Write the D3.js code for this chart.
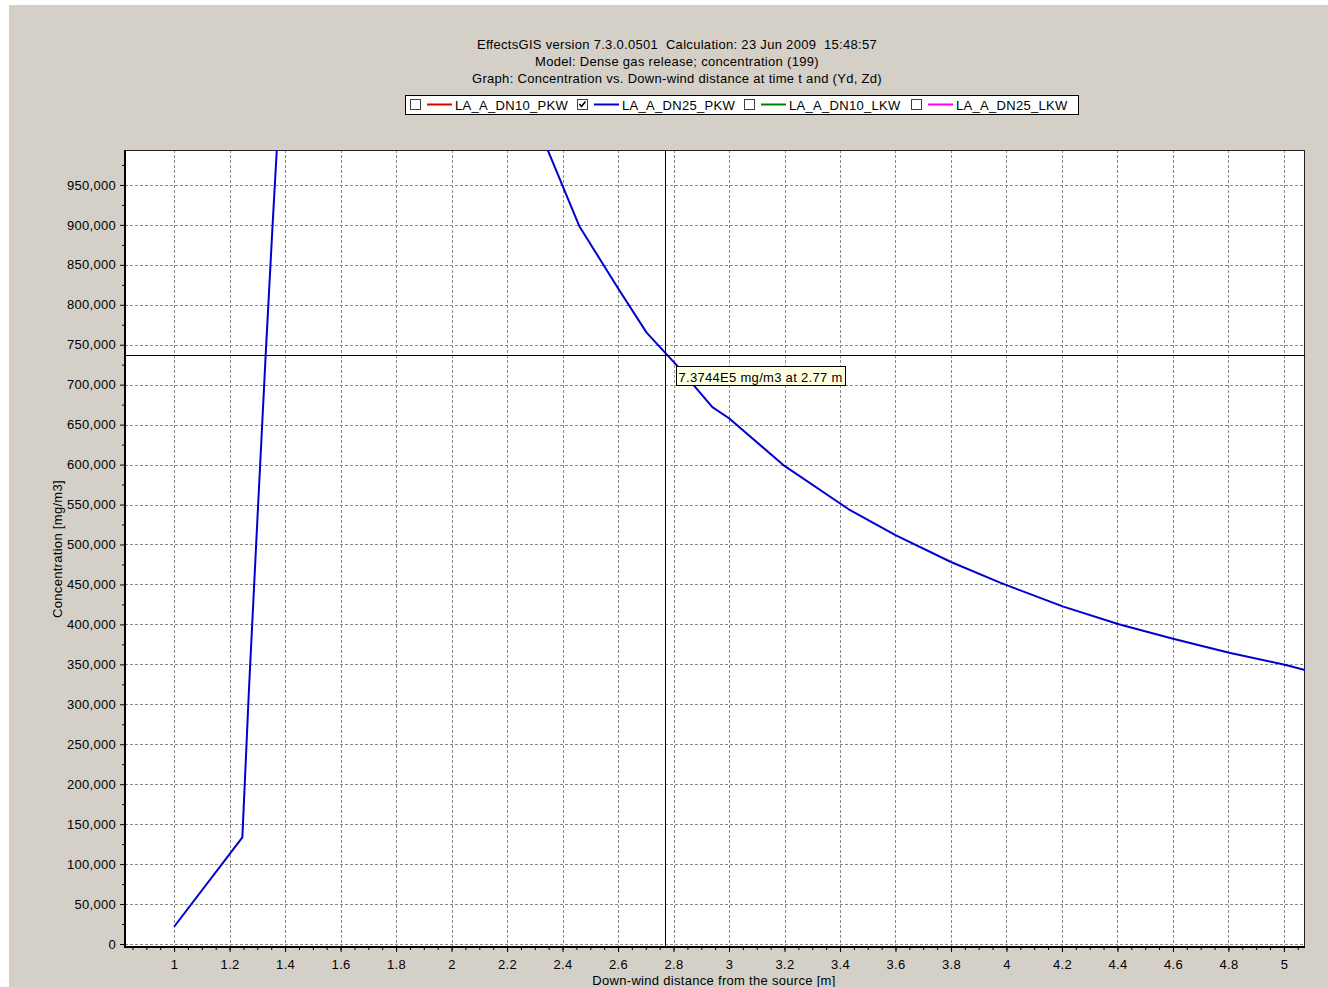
<!DOCTYPE html>
<html>
<head>
<meta charset="utf-8">
<script src="https://cdn.jsdelivr.net/npm/d3@7"></script>
<style>
  html, body { margin: 0; padding: 0; background: #ffffff; }
  svg { display: block; }
  text { font-family: "Liberation Sans", Arial, sans-serif; fill: #000; letter-spacing: 0.3px; white-space: pre; }
</style>
</head>
<body>
<svg id="chart" width="1328" height="987"></svg>
<script>
// ---- data ----
const titleLines = [
  "EffectsGIS version 7.3.0.0501  Calculation: 23 Jun 2009  15:48:57",
  "Model: Dense gas release; concentration (199)",
  "Graph: Concentration vs. Down-wind distance at time t and (Yd, Zd)"
];
const seriesNames = ["LA_A_DN10_PKW", "LA_A_DN25_PKW", "LA_A_DN10_LKW", "LA_A_DN25_LKW"];
const seriesColors = ["#e00000", "#0000d0", "#008000", "#ff00ff"];
const seriesChecked = [false, true, false, false];

// down-wind distance [m] of the visible series (LA_A_DN25_PKW)
const distance = [1.0, 1.246, 1.27, 1.30, 1.33, 1.355, 1.37, 1.38,
                  2.30, 2.349, 2.46, 2.60, 2.703, 2.807, 2.94, 3.0, 3.2, 3.43, 3.6, 3.8, 3.977,
                  4.205, 4.405, 4.604, 4.803, 5.007, 5.076, 5.10];
// concentration [mg/m3]
const concentration = [21600, 133500, 320000, 530000, 737000, 900000, 993000, 1060000,
                       1033000, 991600, 898600, 820700, 765100, 726000, 672000, 658000, 598300, 544400, 511700, 478100, 452200,
                       422200, 400100, 381700, 364600, 349200, 342900, 340500];
// the series has two branches; the second one starts at this index
const branchBreak = 8;

const xTicks = [1, 1.2, 1.4, 1.6, 1.8, 2, 2.2, 2.4, 2.6, 2.8, 3, 3.2, 3.4, 3.6, 3.8, 4, 4.2, 4.4, 4.6, 4.8, 5];
const yTicks = [0, 50000, 100000, 150000, 200000, 250000, 300000, 350000, 400000, 450000,
                500000, 550000, 600000, 650000, 700000, 750000, 800000, 850000, 900000, 950000];
const xDomain = [0.823, 5.076];
const yDomain = [-3750, 993700];

const cursorX = 2.77;
const cursorY = 737440;

const xTitle = "Down-wind distance from the source [m]";
const yTitle = "Concentration [mg/m3]";

// ---- layout ----
const svg = d3.select("#chart");
const plot = { left: 125, right: 1305, top: 150, bottom: 947 };
const FS = 13;

svg.append("rect").attr("x", 9).attr("y", 5).attr("width", 1319).attr("height", 982).attr("fill", "#d4d0c8");

const x = d3.scaleLinear().domain(xDomain).range([plot.left, plot.right]);
const y = d3.scaleLinear().domain(yDomain).range([plot.bottom, plot.top]);

// titles
svg.selectAll("text.title").data(titleLines).join("text")
  .attr("class", "title")
  .attr("x", 677).attr("y", (d, i) => 49 + i * 17)
  .attr("text-anchor", "middle").attr("font-size", FS)
  .text(d => d);

// legend
const legend = svg.append("g");
legend.append("rect").attr("x", 405.5).attr("y", 95.5).attr("width", 673).attr("height", 19)
  .attr("fill", "#fff").attr("stroke", "#000");
const legendX = [410, 577, 744, 911];
seriesNames.forEach((name, i) => {
  const g = legend.append("g").attr("transform", `translate(${legendX[i]},0)`);
  g.append("rect").attr("x", 0.5).attr("y", 99.5).attr("width", 10).attr("height", 10)
    .attr("fill", "#fff").attr("stroke", "#404040");
  if (seriesChecked[i]) {
    g.append("path").attr("d", "M2.5,104 L4.5,106.5 L8.5,101.5").attr("fill", "none")
      .attr("stroke", "#000").attr("stroke-width", 1.6);
  }
  g.append("line").attr("x1", 17).attr("x2", 42).attr("y1", 104.5).attr("y2", 104.5)
    .attr("stroke", seriesColors[i]).attr("stroke-width", 2);
  g.append("text").attr("x", 45).attr("y", 110).attr("font-size", FS).text(name);
});

// plot background
svg.append("rect").attr("x", plot.left).attr("y", plot.top)
  .attr("width", plot.right - plot.left).attr("height", plot.bottom - plot.top).attr("fill", "#fff");

// grid
const grid = svg.append("g").attr("stroke", "#8a8a8a").attr("stroke-dasharray", "3,2").attr("stroke-width", 1);
grid.selectAll("line.gx").data(xTicks).join("line")
  .attr("x1", d => Math.round(x(d)) + 0.5).attr("x2", d => Math.round(x(d)) + 0.5)
  .attr("y1", plot.top).attr("y2", plot.bottom);
grid.selectAll("line.gy").data(yTicks).join("line")
  .attr("y1", d => Math.round(y(d)) + 0.5).attr("y2", d => Math.round(y(d)) + 0.5)
  .attr("x1", plot.left).attr("x2", plot.right);

// axes
const xAxis = d3.axisBottom(x).tickValues(xTicks).tickSize(5).tickPadding(8)
  .tickFormat(d3.format("~g"));
const gx = svg.append("g").attr("transform", `translate(0,${plot.bottom})`).call(xAxis);
gx.select(".domain").remove();
gx.selectAll("text").attr("font-size", FS).attr("font-family", "Liberation Sans, Arial, sans-serif");

const xMinor = d3.range(0.85, 5.07, 0.05);
const gxm = svg.append("g").attr("transform", `translate(0,${plot.bottom})`)
  .call(d3.axisBottom(x).tickValues(xMinor).tickSize(3).tickFormat(""));
gxm.select(".domain").remove();

const yAxis = d3.axisLeft(y).tickValues(yTicks).tickSize(5).tickPadding(4)
  .tickFormat(d3.format(","));
const gy = svg.append("g").attr("transform", `translate(${plot.left},0)`).call(yAxis);
gy.select(".domain").remove();
gy.selectAll("text").attr("font-size", FS).attr("font-family", "Liberation Sans, Arial, sans-serif");

const yMinor = d3.range(25000, 990000, 50000);
const gym = svg.append("g").attr("transform", `translate(${plot.left},0)`)
  .call(d3.axisLeft(y).tickValues(yMinor).tickSize(3).tickFormat(""));
gym.select(".domain").remove();

// frame
svg.append("rect").attr("x", plot.left + 0.5).attr("y", plot.top + 0.5)
  .attr("width", plot.right - plot.left - 1).attr("height", plot.bottom - plot.top - 1)
  .attr("fill", "none").attr("stroke", "#202020").attr("stroke-width", 1);
svg.append("line").attr("x1", plot.left).attr("x2", plot.left).attr("y1", plot.top).attr("y2", plot.bottom + 1)
  .attr("stroke", "#000").attr("stroke-width", 2);
svg.append("line").attr("x1", plot.left).attr("x2", plot.right).attr("y1", plot.bottom).attr("y2", plot.bottom)
  .attr("stroke", "#000").attr("stroke-width", 2);

// axis titles
svg.append("text").attr("x", 714).attr("y", 985).attr("text-anchor", "middle").attr("font-size", FS).text(xTitle);
svg.append("text").attr("transform", "translate(62,549) rotate(-90)").attr("text-anchor", "middle")
  .attr("font-size", FS).text(yTitle);

// series line
svg.append("clipPath").attr("id", "plotClip").append("rect")
  .attr("x", plot.left).attr("y", plot.top).attr("width", plot.right - plot.left).attr("height", plot.bottom - plot.top);
const pts = distance.map((d, i) => ({ x: d, y: concentration[i] }));
const line = d3.line().x(d => x(d.x)).y(d => y(d.y));
const branches = [pts.slice(0, branchBreak), pts.slice(branchBreak)];
svg.append("g").attr("clip-path", "url(#plotClip)")
  .selectAll("path").data(branches).join("path")
  .attr("d", line).attr("fill", "none").attr("stroke", seriesColors[1]).attr("stroke-width", 2)
  .attr("stroke-linejoin", "round");

// crosshair cursor
const cx = Math.round(x(cursorX)) + 0.5;
const cy = Math.round(y(cursorY)) + 0.5;
svg.append("line").attr("x1", cx).attr("x2", cx).attr("y1", plot.top).attr("y2", plot.bottom)
  .attr("stroke", "#000").attr("stroke-width", 1);
svg.append("line").attr("x1", plot.left).attr("x2", plot.right).attr("y1", cy).attr("y2", cy)
  .attr("stroke", "#000").attr("stroke-width", 1);

// tooltip
const tipText = `${(cursorY / 1e5).toFixed(4)}E5 mg/m3 at ${cursorX} m`;
const tip = svg.append("g").attr("transform", `translate(${cx + 11},${cy + 11})`);
tip.append("rect").attr("x", 0).attr("y", 0).attr("width", 169).attr("height", 19)
  .attr("fill", "#ffffe1").attr("stroke", "#000");
tip.append("text").attr("x", 2).attr("y", 15).attr("font-size", FS).text(tipText);
</script>
</body>
</html>
